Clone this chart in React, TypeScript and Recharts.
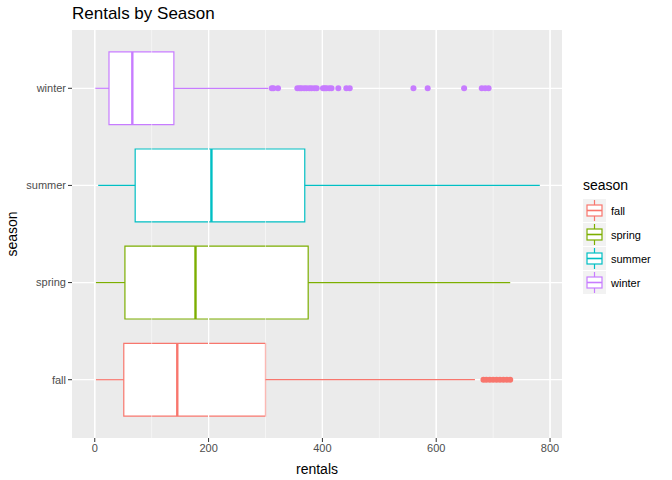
import React from 'react';
import { ComposedChart, XAxis, YAxis, CartesianGrid, ReferenceArea, ReferenceLine, Scatter } from 'recharts';

const seasons = ['fall', 'spring', 'summer', 'winter'];
const colors = ['#F8766D', '#7CAE00', '#00BFC4', '#C77CFF'];
const whiskerLow = [2, 2, 6, 1];
const q1 = [51, 53, 71, 25];
const median = [145, 177, 205, 66];
const q3 = [300, 375, 369, 139];
const whiskerHigh = [668, 730, 782, 305];
const fallOutliers = [683, 688, 694, 700, 706, 712, 718, 724, 730];
const winterOutliers = [311, 314, 322, 356, 360, 363, 368, 372, 377, 381, 386, 390, 401, 404, 407, 412, 416, 428, 442, 448, 560, 585, 649, 680, 686, 692];
const xTicks = [0, 200, 400, 600, 800];
const xMinor = [100, 300, 500, 700];

const font = '"Liberation Sans", Arial, sans-serif';

export default function App() {
  const outlierSets = [fallOutliers, [], [], winterOutliers];
  return (
    <div style={{ position: 'absolute', left: 0, top: 0, width: 672, height: 480, fontFamily: font }}>
      <div style={{ position: 'absolute', left: 72, top: 4, fontSize: 17, color: '#000' }}>Rentals by Season</div>
      <div style={{ position: 'absolute', left: 2, top: 234, fontSize: 14, color: '#000', transform: 'translate(0,-50%) rotate(-90deg)', transformOrigin: 'center', width: 20, display: 'flex', justifyContent: 'center' }}>
        <span style={{ whiteSpace: 'nowrap' }}>season</span>
      </div>
      <ComposedChart width={672} height={480} layout="vertical" margin={{ top: 30, right: 110, bottom: 0, left: 0 }}>
        <XAxis type="number" dataKey="x" domain={[-40, 821]} ticks={xTicks} height={42} tickSize={4}
          tick={{ fontSize: 11, fill: '#4D4D4D', fontFamily: font }} stroke="#333" axisLine={false}
          tickLine={{ stroke: '#333' }}
          label={{ value: 'rentals', position: 'insideBottom', offset: 6, fontSize: 14, fill: '#000', fontFamily: font }} />
        <YAxis type="number" dataKey="y" domain={[0.4, 4.6]} ticks={[1, 2, 3, 4]} width={72} tickSize={4} reversed
          tickFormatter={(v: number) => seasons[v - 1]} axisLine={false} tickLine={{ stroke: '#333' }}
          tick={{ fontSize: 11, fill: '#4D4D4D', fontFamily: font }} />
        <CartesianGrid stroke="#fff" strokeWidth={1.2} horizontalValues={[1, 2, 3, 4]} verticalValues={xTicks} fill="#EBEBEB" fillOpacity={1} />
        {xMinor.map((v) => (
          <ReferenceLine key={'m' + v} x={v} stroke="#fff" strokeWidth={0.5} />
        ))}
        {xTicks.map((v) => (
          <ReferenceLine key={'M' + v} x={v} stroke="#fff" strokeWidth={1.2} />
        ))}
        {seasons.map((s, i) => (
          <ReferenceLine key={'wl' + s} segment={[{ x: whiskerLow[i], y: i + 1 }, { x: q1[i], y: i + 1 }]} stroke={colors[i]} strokeWidth={1.2} />
        ))}
        {seasons.map((s, i) => (
          <ReferenceLine key={'wh' + s} segment={[{ x: q3[i], y: i + 1 }, { x: whiskerHigh[i], y: i + 1 }]} stroke={colors[i]} strokeWidth={1.2} />
        ))}
        {seasons.map((s, i) => (
          <ReferenceArea key={'b' + s} x1={q1[i]} x2={q3[i]} y1={i + 1 - 0.375} y2={i + 1 + 0.375} fill="#fff" fillOpacity={1} stroke={colors[i]} strokeWidth={1.2} />
        ))}
        {seasons.map((s, i) => (
          <ReferenceLine key={'md' + s} segment={[{ x: median[i], y: i + 1 - 0.375 }, { x: median[i], y: i + 1 + 0.375 }]} stroke={colors[i]} strokeWidth={2.4} />
        ))}
        {seasons.map((s, i) => (
          <Scatter key={'o' + s} data={outlierSets[i].map((v) => ({ x: v, y: i + 1 }))} fill={colors[i]} isAnimationActive={false}
            shape={(p: any) => <circle cx={p.cx} cy={p.cy} r={3} fill={colors[i]} />} />
        ))}
      </ComposedChart>
      <div style={{ position: 'absolute', left: 583, top: 177, fontSize: 14, color: '#000' }}>season</div>
      {seasons.map((s, i) => (
        <div key={s} style={{ position: 'absolute', left: 583, top: 199 + i * 24, height: 23, display: 'flex', alignItems: 'center' }}>
          <svg width={23} height={23} style={{ display: 'block' }}>
            <rect x={0} y={0} width={23} height={23} fill="#F2F2F2" />
            <line x1={11.5} y1={1} x2={11.5} y2={22} stroke={colors[i]} strokeWidth={1.2} />
            <rect x={4} y={6} width={15} height={11} fill="#fff" stroke={colors[i]} strokeWidth={1.2} />
            <line x1={4} y1={11.5} x2={19} y2={11.5} stroke={colors[i]} strokeWidth={1.6} />
          </svg>
          <span style={{ marginLeft: 5, fontSize: 11, color: '#000' }}>{s}</span>
        </div>
      ))}
    </div>
  );
}
